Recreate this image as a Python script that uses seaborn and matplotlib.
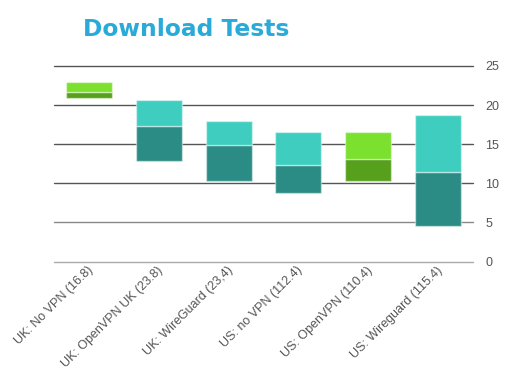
import matplotlib
matplotlib.use("Agg")
import matplotlib.pyplot as plt
import seaborn as sns
import pandas as pd
import numpy as np

categories = ["UK: No VPN (16.8)", "UK: OpenVPN UK (23.8)", "UK: WireGuard (23,4)",
              "US: no VPN (112.4)", "US: OpenVPN (110.4)", "US: Wireguard (115.4)"]
low = [20.9, 12.8, 10.25, 8.8, 10.25, 4.5]
median = [21.7, 17.3, 14.9, 12.4, 13.1, 11.5]
high = [23.0, 20.7, 17.95, 16.5, 16.5, 18.7]
lower_colors = ["#56A01C", "#2A8C84", "#2A8C84", "#2A8C84", "#56A01C", "#2A8C84"]
upper_colors = ["#7BE02E", "#3ECDBF", "#3ECDBF", "#3ECDBF", "#7BE02E", "#3ECDBF"]
yticks = [0, 5, 10, 15, 20, 25]

sns.set_theme(style="white")
plt.rcParams['font.family'] = ['Liberation Sans', 'DejaVu Sans']

df = pd.DataFrame({
    "cat": categories,
    "lower_h": np.array(median) - np.array(low),
    "upper_h": np.array(high) - np.array(median),
})

fig = plt.figure(figsize=(5.07, 3.78), dpi=100)
ax = fig.add_axes([54 / 507, 116.5 / 378, 419 / 507, 195.5 / 378])

sns.barplot(data=df, x="cat", y="lower_h", bottom=low, errorbar=None, width=0.66,
            ax=ax, color="#2A8C84", zorder=3)
n1 = len(ax.patches)
sns.barplot(data=df, x="cat", y="upper_h", bottom=median, errorbar=None, width=0.66,
            ax=ax, color="#3ECDBF", zorder=3)
for i, p in enumerate(ax.patches):
    if i < n1:
        p.set_facecolor(lower_colors[i])
    else:
        p.set_facecolor(upper_colors[i - n1])
    p.set_edgecolor((1, 1, 1, 0.45))
    p.set_linewidth(1.0)

ax.set_xlim(-0.5, 5.5)
ax.set_ylim(0, 25)
ax.set_yticks(yticks)
ax.yaxis.tick_right()
ax.tick_params(axis="y", length=0, pad=9, labelsize=9, labelcolor="#555555")
ax.tick_params(axis="x", length=0, pad=2, labelsize=9, labelcolor="#555555")
ax.set_xlabel("")
ax.set_ylabel("")
ax.set_xticks(range(len(categories)))
ax.set_xticklabels(categories, rotation=45, ha="right", va="top", rotation_mode="anchor")
for lab in ax.get_xticklabels():
    lab.set_transform(lab.get_transform() + matplotlib.transforms.ScaledTranslation(-2 / 100, 0, fig.dpi_scale_trans))

ax.grid(axis="y", zorder=0, linewidth=1.0)
ax.set_axisbelow(True)
grid_colors = ["#aaaaaa", "#888888", "#555555", "#555555", "#555555", "#555555"]
for gl, c in zip(ax.yaxis.get_gridlines(), grid_colors):
    gl.set_color(c)
    gl.set_clip_on(False)
for s in ax.spines.values():
    s.set_visible(False)

fig.text(83 / 507, 1 - 36.5 / 378, "Download Tests", family="DejaVu Sans", fontweight="bold",
         fontsize=16.8, color="#2AAAD8", va="baseline", ha="left")

fig.savefig("out.png", dpi=100)
